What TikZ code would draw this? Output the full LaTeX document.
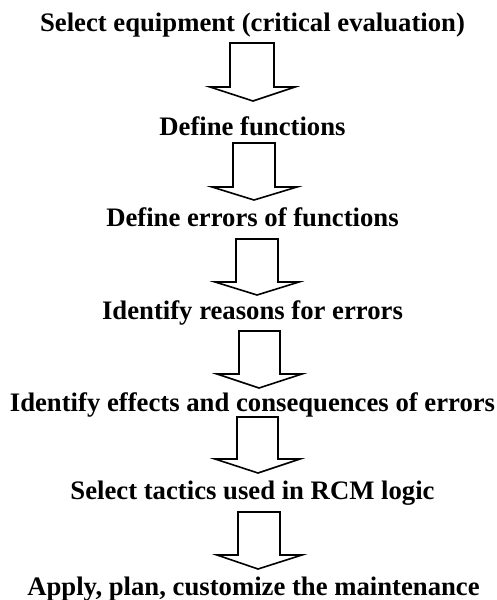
\documentclass[tikz,border=0pt]{standalone}
\usepackage{fontspec}
\setmainfont{Liberation Serif}
\begin{document}
\begin{tikzpicture}[x=1pt,y=-1pt,
  steptext/.style={inner sep=0pt,anchor=base,font=\fontsize{26.7}{30}\selectfont\bfseries},
  blockarrow/.style={draw=black,line width=1.6pt,fill=white,line join=miter}]
\useasboundingbox (0,0) rectangle (497,600);
\node[steptext] (s1) at (252.5,31) {Select equipment (critical evaluation)};
\node[steptext] (s2) at (252.5,135) {Define functions};
\node[steptext] (s3) at (252.5,226) {Define errors of functions};
\node[steptext] (s4) at (252.5,319) {Identify reasons for errors};
\node[steptext] (s5) at (252.5,411) {Identify effects and consequences of errors};
\node[steptext] (s6) at (252.5,499) {Select tactics used in RCM logic};
\node[steptext] (s7) at (253.5,595) {Apply, plan, customize the maintenance};
% block arrows
\draw[blockarrow] (230,43) -- (274,43) -- (274,87) -- (295,87) -- (253,101) -- (210,87) -- (230,87) -- cycle;
\draw[blockarrow] (233,143) -- (275,143) -- (275,187) -- (297,187) -- (254,200) -- (212,187) -- (233,187) -- cycle;
\draw[blockarrow] (236,239) -- (278,239) -- (278,282) -- (299,282) -- (257,295) -- (215,282) -- (236,282) -- cycle;
\draw[blockarrow] (239,331) -- (280,331) -- (280,374) -- (302,374) -- (259,388) -- (217,374) -- (239,374) -- cycle;
\draw[blockarrow] (237,417) -- (278,417) -- (278,459) -- (300,459) -- (258,473) -- (215,459) -- (237,459) -- cycle;
\draw[blockarrow] (238,512) -- (280,512) -- (280,555) -- (302,555) -- (258,569) -- (217,555) -- (238,555) -- cycle;
\end{tikzpicture}
\end{document}
